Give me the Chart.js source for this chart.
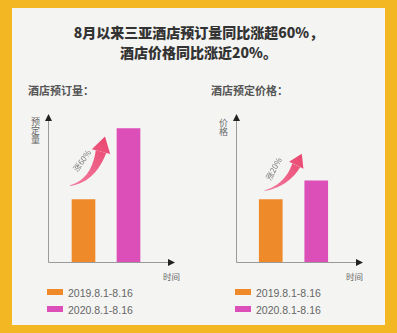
<!DOCTYPE html>
<html>
<head>
<meta charset="utf-8">
<script src="https://cdn.jsdelivr.net/npm/chart.js@4"></script>
<style>
    body { margin: 0; width: 397px; height: 333px; background: #f3b724; position: relative; overflow: hidden;
           font-family: "Noto Sans CJK SC", "Noto Sans", sans-serif; }
    .panel { position: absolute; left: 12px; top: 8px; width: 373px; height: 317px; background: #f4f4f2; }
    .title { position: absolute; left: 0; width: 397px; top: 22px; text-align: center; font-size: 14px;
             font-weight: 900; line-height: 20px; color: #333; }
    .sub { position: absolute; top: 82px; font-size: 11px; font-weight: 700; color: #555; }
    .ylab { position: absolute; writing-mode: vertical-rl; font-size: 9px; line-height: 1; color: #666; }
    .xlab { position: absolute; top: 270px; font-size: 8.5px; color: #666; }
    canvas { position: absolute; }
    .legend { position: absolute; top: 287px; font-family: "Liberation Sans", Arial, sans-serif; font-size: 10.5px; color: #666; }
    .legend div { height: 17px; line-height: 12px; }
    .legend span { display: inline-block; width: 16px; height: 6px; margin-right: 5px; vertical-align: 2px; }
</style>
</head>
<body>
<div class="panel"></div>
<div class="title">8月以来三亚酒店预订量同比涨超60%，<br>酒店价格同比涨近20%。</div>

<div class="sub" style="left:28px">酒店预订量：</div>
<div class="sub" style="left:211px">酒店预定价格：</div>

<div class="ylab" style="left:31px; top:117px">预定量</div>
<div class="ylab" style="left:219px; top:118px">价格</div>
<div class="xlab" style="left:163px">时间</div>
<div class="xlab" style="left:346px">时间</div>

<canvas id="volumeChart" width="170" height="175" style="left:20px; top:100px"></canvas>
<canvas id="priceChart" width="170" height="175" style="left:207px; top:100px"></canvas>

<div class="legend" id="legendLeft" style="left:47px"></div>
<div class="legend" id="legendRight" style="left:235px"></div>

<script>
// ---- data (relative bar heights, axis max = 100) ----
const periods = ["2019.8.1-8.16", "2020.8.1-8.16"];
const bookingVolume = [43, 92];
const bookingPrice = [43, 56];
const barColors = ["#ef8a2b", "#dc4eb8"];
const growthLabels = ["涨60%", "涨20%"];

// draws arrowed axes + curved growth arrow
const decorPlugin = {
    id: "decor",
    beforeDatasetsDraw(chart, args, opts) {
        const { ctx, chartArea } = chart;
        const ax = chartArea.left - opts.gap;
        const bottom = chartArea.bottom;
        const right = chartArea.right + opts.ext;
        ctx.save();
        ctx.strokeStyle = "#9a9a9a";
        ctx.lineWidth = 1;
        ctx.beginPath();
        ctx.moveTo(ax + 0.5, chartArea.top - 1);
        ctx.lineTo(ax + 0.5, bottom + 0.5);
        ctx.lineTo(right, bottom + 0.5);
        ctx.stroke();
        ctx.fillStyle = "#222";
        ctx.beginPath();
        ctx.moveTo(ax + 0.5, chartArea.top - 3);
        ctx.lineTo(ax - 3, chartArea.top + 4);
        ctx.lineTo(ax + 4, chartArea.top + 4);
        ctx.fill();
        ctx.beginPath();
        ctx.moveTo(right + 2, bottom + 0.5);
        ctx.lineTo(right - 5, bottom - 3);
        ctx.lineTo(right - 5, bottom + 4);
        ctx.fill();
        ctx.restore();
    },
    afterDatasetsDraw(chart, args, opts) {
        const { ctx } = chart;
        const bars = chart.getDatasetMeta(0).data;
        const a = opts.arrow;
        const T = { x: bars[0].x + a.tail[0], y: bars[0].y + a.tail[1] };
        const B = { x: bars[1].x + a.base[0], y: bars[1].y + a.base[1] };
        const P = { x: B.x + a.tip[0], y: B.y + a.tip[1] };
        const len = Math.hypot(a.tip[0], a.tip[1]);
        const dir = { x: a.tip[0] / len, y: a.tip[1] / len };
        const C = { x: B.x - dir.x * a.bend, y: B.y - dir.y * a.bend };

        // crescent body along quadratic curve
        const left = [], rightSide = [];
        const n = 24;
        for (let i = 0; i <= n; i++) {
            const t = i / n;
            const x = (1 - t) * (1 - t) * T.x + 2 * (1 - t) * t * C.x + t * t * B.x;
            const y = (1 - t) * (1 - t) * T.y + 2 * (1 - t) * t * C.y + t * t * B.y;
            const dx = 2 * (1 - t) * (C.x - T.x) + 2 * t * (B.x - C.x);
            const dy = 2 * (1 - t) * (C.y - T.y) + 2 * t * (B.y - C.y);
            const d = Math.hypot(dx, dy);
            const w = 0.4 + Math.pow(t, 1.3) * a.width;
            left.push([x - dy / d * w, y + dx / d * w]);
            rightSide.push([x + dy / d * w, y - dx / d * w]);
        }
        const grad = ctx.createLinearGradient(T.x, T.y, P.x, P.y);
        grad.addColorStop(0, "#f27d9f");
        grad.addColorStop(1, "#ea4670");
        ctx.save();
        ctx.fillStyle = grad;
        ctx.beginPath();
        left.forEach((p, i) => i ? ctx.lineTo(p[0], p[1]) : ctx.moveTo(p[0], p[1]));
        for (let i = rightSide.length - 1; i >= 0; i--) ctx.lineTo(rightSide[i][0], rightSide[i][1]);
        ctx.closePath();
        ctx.fill();
        // head
        ctx.beginPath();
        ctx.moveTo(P.x, P.y);
        ctx.lineTo(B.x - dir.y * a.head, B.y + dir.x * a.head);
        ctx.lineTo(B.x + dir.y * a.head, B.y - dir.x * a.head);
        ctx.closePath();
        ctx.fill();
        // label along the arrow
        ctx.translate(T.x + a.text[0], T.y + a.text[1]);
        ctx.rotate(a.angle * Math.PI / 180);
        ctx.fillStyle = "#777";
        ctx.font = "8px 'Noto Sans CJK SC'";
        ctx.textAlign = "center";
        ctx.textBaseline = "middle";
        ctx.fillText(a.label, 0, 0);
        ctx.restore();
    }
};

function makeChart(id, values, pad, decor) {
    const ctx = document.getElementById(id).getContext("2d");
    return new Chart(ctx, {
        type: "bar",
        data: {
            labels: periods,
            datasets: [{
                data: values,
                backgroundColor: barColors,
                barThickness: 23,
                borderWidth: 0
            }]
        },
        options: {
            responsive: false,
            animation: false,
            layout: { padding: pad },
            plugins: {
                legend: { display: false },
                tooltip: { enabled: false },
                decor: decor
            },
            scales: {
                x: { display: false },
                y: { display: false, min: 0, max: 100 }
            }
        },
        plugins: [decorPlugin]
    });
}

makeChart("volumeChart", bookingVolume,
    { left: 41, right: 39, top: 17, bottom: 13 },
    { gap: 13, ext: 22, arrow: { tail: [-13.5, -14], base: [-27.5, 23], tip: [4, -15], bend: 30,
        width: 5, head: 9.5, text: [12, -25], angle: -55, label: growthLabels[0] } });

makeChart("priceChart", bookingPrice,
    { left: 41, right: 38, top: 17, bottom: 13 },
    { gap: 12, ext: 22, arrow: { tail: [-6, -9], base: [-20, -15.5], tip: [5.5, -11.5], bend: 22,
        width: 4, head: 8, text: [9, -22], angle: -62, label: growthLabels[1] } });

// legends
function buildLegend(elId) {
    const el = document.getElementById(elId);
    periods.forEach((p, i) => {
        const row = document.createElement("div");
        const sw = document.createElement("span");
        sw.style.background = barColors[i];
        row.appendChild(sw);
        row.appendChild(document.createTextNode(p));
        el.appendChild(row);
    });
}
buildLegend("legendLeft");
buildLegend("legendRight");
</script>
</body>
</html>
